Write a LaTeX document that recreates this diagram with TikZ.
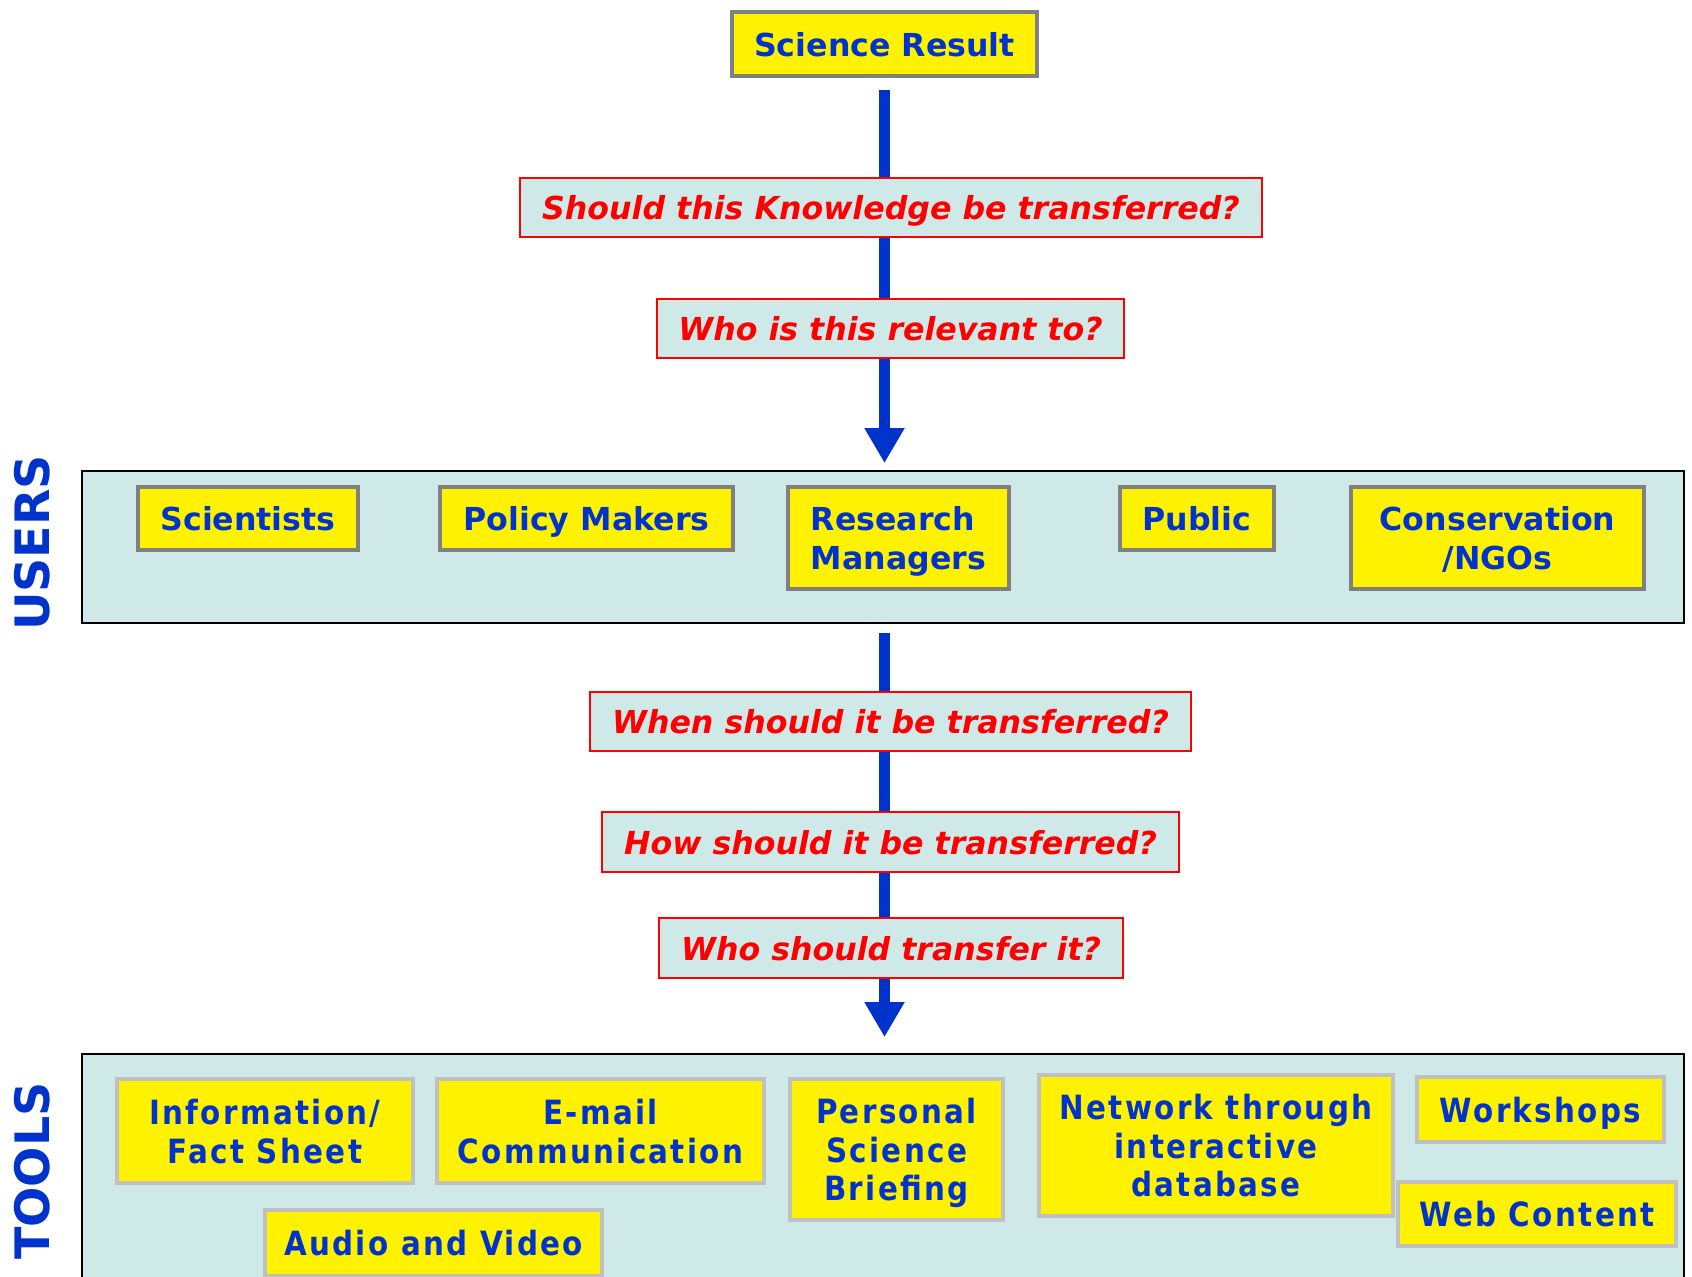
\documentclass[tikz,border=0pt]{standalone}
\usepackage{fontspec}
\setmainfont{DejaVu Sans}
\newfontfamily\narrowfont[FakeStretch=0.88,LetterSpace=7]{DejaVu Sans}
\usetikzlibrary{arrows.meta}
\definecolor{txtblue}{RGB}{0,51,204}
\definecolor{flowblue}{RGB}{0,51,204}
\definecolor{panelfill}{RGB}{207,232,232}
\definecolor{darkrim}{RGB}{128,128,128}
\definecolor{lightrim}{RGB}{192,192,192}
\definecolor{askred}{RGB}{255,0,0}

\begin{document}
\begin{tikzpicture}[
  x=0.02cm, y=-0.02cm,
  result/.style={draw=darkrim, line width=2.6pt, fill=yellow, text=txtblue, align=center, inner sep=0pt, text depth=0pt,
    font=\fontsize{18pt}{22pt}\selectfont\bfseries},
  user/.style={result},
  tool/.style={draw=lightrim, line width=2.3pt, fill=yellow, text=txtblue, align=center, inner sep=0pt, text depth=0pt,
    font=\narrowfont\fontsize{19pt}{22pt}\selectfont\bfseries},
  ask/.style={draw=askred, line width=0.8pt, fill=panelfill, text=askred, inner sep=0pt, minimum height=1.18cm, text depth=0pt,
    font=\fontsize{18pt}{22pt}\selectfont\bfseries\itshape},
  panel/.style={draw=black, line width=1pt, fill=panelfill, inner sep=0pt},
  side/.style={text=txtblue, rotate=90, font=\fontsize{27pt}{32pt}\selectfont\bfseries},
  flow/.style={draw=flowblue, line width=6.2pt},
  flowtip/.style={flow, -{Triangle[width=21.5pt,length=20pt]}}
]
\useasboundingbox (0,0) rectangle (1692,1276);
\clip (0,0) rectangle (1692,1276);

% panels
\node[panel, minimum width=32.04cm, minimum height=3.04cm] (users) at (883,547) {};
\node[panel, minimum width=32.04cm, minimum height=4.92cm] (tools) at (883,1177) {};
\node[side] (userslabel) at (32,543) {USERS};
\node[side] (toolslabel) at (32,1171) {TOOLS};

% top of the flow
\node[result, minimum width=6.1cm, minimum height=1.28cm] (sci) at (884.5,44) {Science Result};
\node[ask, minimum width=14.84cm] (q1) at (891,207.5) {Should this Knowledge be transferred?};
\node[ask, minimum width=9.34cm] (q2) at (890.5,328.5) {Who is this relevant to?};

% users
\node[user, minimum width=4.4cm, minimum height=1.26cm] (scientists) at (248,518.5) {Scientists};
\node[user, minimum width=5.86cm, minimum height=1.26cm] (policy) at (586.5,518.5) {Policy Makers};
\node[user, minimum width=4.42cm, minimum height=2.04cm, align=left] (managers) at (898.5,538) {Research\\Managers};
\node[user, minimum width=3.08cm, minimum height=1.26cm] (public) at (1197,518.5) {Public};
\node[user, minimum width=5.86cm, minimum height=2.04cm] (ngos) at (1497.5,538) {Conservation\\/NGOs};

% questions below the users
\node[ask, minimum width=12.02cm] (q3) at (890.5,721.5) {When should it be transferred?};
\node[ask, minimum width=11.54cm, minimum height=1.2cm] (q4) at (890.5,842) {How should it be transferred?};
\node[ask, minimum width=9.28cm, minimum height=1.2cm] (q5) at (891,948) {Who should transfer it?};

% tools
\node[tool, minimum width=5.92cm, minimum height=2.08cm] (factsheet) at (265,1131) {Information/\\Fact Sheet};
\node[tool, minimum width=6.54cm, minimum height=2.08cm] (email) at (600.5,1131) {E-mail\\Communication};
\node[tool, minimum width=6.74cm, minimum height=1.32cm] (media) at (433.5,1243) {Audio and Video};
\node[tool, minimum width=4.26cm, minimum height=2.82cm] (briefing) at (896.5,1149.5) {Personal\\Science\\Briefing};
\node[tool, minimum width=7.08cm, minimum height=2.82cm] (network) at (1216,1145.5) {Network through\\interactive\\database};
\node[tool, minimum width=4.94cm, minimum height=1.3cm] (workshops) at (1540.5,1109.5) {Workshops};
\node[tool, minimum width=5.56cm, minimum height=1.28cm] (web) at (1537,1214) {Web Content};

% flow arrows
\draw[flow] ([yshift=-0.24cm]sci.south) -- (sci.south |- q1.north);
\draw[flow] (sci.south |- q1.south) -- (sci.south |- q2.north);
\draw[flowtip, shorten >=0.14cm] (sci.south |- q2.south) -- (sci.south |- users.north);
\draw[flow] ([yshift=-0.18cm]sci.south |- users.south) -- (sci.south |- q3.north);
\draw[flow] (sci.south |- q3.south) -- (sci.south |- q4.north);
\draw[flow] (sci.south |- q4.south) -- (sci.south |- q5.north);
\draw[flowtip, shorten >=0.32cm] (sci.south |- q5.south) -- (sci.south |- tools.north);
\end{tikzpicture}
\end{document}
